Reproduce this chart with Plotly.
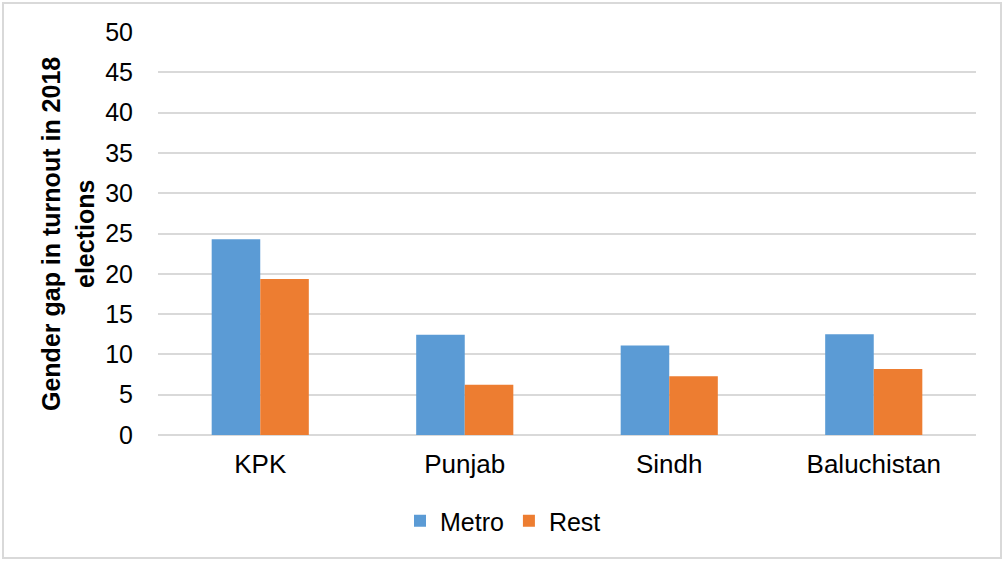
import plotly.graph_objects as go

categories = ["KPK", "Punjab", "Sindh", "Baluchistan"]
metro = [24.3, 12.45, 11.1, 12.5]
rest = [19.35, 6.25, 7.3, 8.2]
y_ticks = [0, 5, 10, 15, 20, 25, 30, 35, 40, 45, 50]
title_line1 = "Gender gap in turnout in 2018"
title_line2 = "elections"

FONT = "Liberation Sans, Arial, sans-serif"

fig = go.Figure()
fig.add_trace(go.Bar(name="Metro", x=categories, y=metro, marker_color="#5B9BD5",
                     marker_line_width=0))
fig.add_trace(go.Bar(name="Rest", x=categories, y=rest, marker_color="#ED7D31",
                     marker_line_width=0))

L, R, T, B = 158, 28, 32, 126
W, H = 1004, 561
pw, ph = W - L - R, H - T - B

def px_x(p):
    return (p - L) / pw

def px_y(p):
    return (H - B - p) / ph

fig.update_layout(
    width=W, height=H,
    margin=dict(l=L, r=R, t=T, b=B, autoexpand=False),
    paper_bgcolor="white", plot_bgcolor="white",
    font=dict(family=FONT, size=25, color="black"),
    barmode="group", bargap=0.525, bargroupgap=0,
    showlegend=True,
    legend=dict(orientation="h", xref="container", x=0.501, xanchor="center",
                y=px_y(521), yanchor="middle",
                font=dict(size=25), itemwidth=30, bgcolor="rgba(0,0,0,0)"),
    xaxis=dict(showgrid=False, showline=False, zeroline=False, ticks="",
               tickfont=dict(size=26), ticklabelstandoff=11),
    yaxis=dict(range=[0, 50], tickvals=y_ticks, showgrid=True, gridcolor="#D9D9D9",
               gridwidth=1.5, zeroline=True, zerolinecolor="#D9D9D9", zerolinewidth=1.5,
               showline=False, ticks="", tickfont=dict(size=25), ticklabelstandoff=24),
    shapes=[dict(type="rect", xref="paper", yref="paper",
                 x0=px_x(3), x1=px_x(1001), y0=px_y(558), y1=px_y(3),
                 line=dict(color="#D9D9D9", width=2), fillcolor="rgba(0,0,0,0)", layer="below")],
    annotations=[
        dict(text="<b>" + title_line1 + "</b>", xref="paper", yref="paper",
             x=px_x(51), y=px_y(234), textangle=-90, showarrow=False,
             xanchor="center", yanchor="middle", font=dict(size=25, color="black")),
        dict(text="<b>" + title_line2 + "</b>", xref="paper", yref="paper",
             x=px_x(85), y=px_y(234), textangle=-90, showarrow=False,
             xanchor="center", yanchor="middle", font=dict(size=25, color="black")),
    ],
)

fig.write_html("out.html", config={"displayModeBar": False},
               post_script="document.body.style.margin='0';")
